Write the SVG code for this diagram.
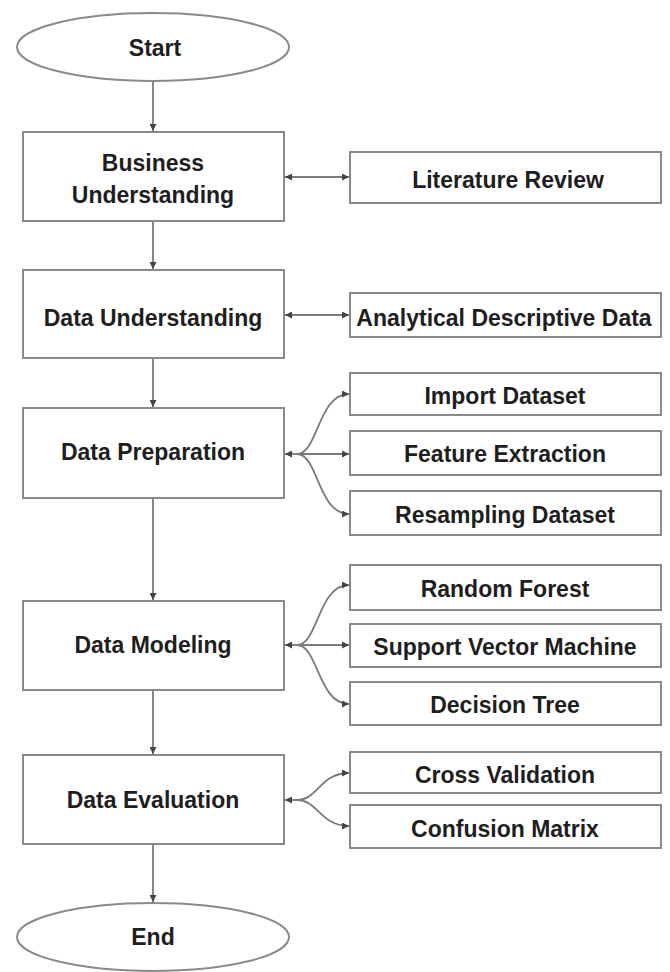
<svg xmlns="http://www.w3.org/2000/svg" width="670" height="972" viewBox="0 0 670 972">
<style>
.box{fill:#fff;stroke:#8a8a8a;stroke-width:2}
.t{font-family:"Liberation Sans",Arial,sans-serif;font-weight:bold;font-size:23px;fill:#1e1e1e;text-anchor:middle;dominant-baseline:central}
.c{fill:none;stroke:#7a7a7a;stroke-width:1.8}
</style>
<defs>
<marker id="ah" viewBox="0 0 10 10" refX="10" refY="5" markerWidth="7" markerHeight="7" markerUnits="userSpaceOnUse" orient="auto-start-reverse">
<path d="M0,0 L10,5 L0,10 z" fill="#444"/>
</marker>
</defs>
<rect width="670" height="972" fill="#fff"/>
<g id="connectors">
<line class="c" x1="153" y1="82" x2="153" y2="131" marker-end="url(#ah)"/>
<line class="c" x1="153" y1="221" x2="153" y2="269" marker-end="url(#ah)"/>
<line class="c" x1="153" y1="358" x2="153" y2="407" marker-end="url(#ah)"/>
<line class="c" x1="153" y1="498" x2="153" y2="600" marker-end="url(#ah)"/>
<line class="c" x1="153" y1="690" x2="153" y2="754" marker-end="url(#ah)"/>
<line class="c" x1="153" y1="844" x2="153" y2="902" marker-end="url(#ah)"/>
<line class="c" x1="285" y1="177" x2="349" y2="177" marker-start="url(#ah)" marker-end="url(#ah)"/>
<line class="c" x1="285" y1="315" x2="349" y2="315" marker-start="url(#ah)" marker-end="url(#ah)"/>
<line class="c" x1="285" y1="454" x2="299" y2="454" marker-start="url(#ah)"/>
<path class="c" d="M297,454 C318,454 318,394 349,394" marker-end="url(#ah)"/>
<path class="c" d="M297,454 L349,454" marker-end="url(#ah)"/>
<path class="c" d="M297,454 C318,454 318,514 349,514" marker-end="url(#ah)"/>
<line class="c" x1="285" y1="645" x2="299" y2="645" marker-start="url(#ah)"/>
<path class="c" d="M297,645 C318,645 318,585 349,585" marker-end="url(#ah)"/>
<path class="c" d="M297,645 L349,645" marker-end="url(#ah)"/>
<path class="c" d="M297,645 C318,645 318,704 349,704" marker-end="url(#ah)"/>
<line class="c" x1="285" y1="800" x2="299" y2="800" marker-start="url(#ah)"/>
<path class="c" d="M297,800 C318,800 320,773 349,773" marker-end="url(#ah)"/>
<path class="c" d="M297,800 C318,800 320,826 349,826" marker-end="url(#ah)"/>
</g>
<g id="start"><ellipse class="box" cx="153" cy="47" rx="136" ry="34"/><text class="t" x="155" y="48">Start</text></g>
<g id="business"><rect class="box" x="23" y="132" width="261" height="89"/><text class="t" x="153" y="163">Business</text><text class="t" x="153" y="195">Understanding</text></g>
<g id="literature"><rect class="box" x="350" y="152" width="311" height="51"/><text class="t" x="508" y="180">Literature Review</text></g>
<g id="dataunderstanding"><rect class="box" x="23" y="270" width="261" height="88"/><text class="t" x="153" y="318">Data Understanding</text></g>
<g id="analytical"><rect class="box" x="350" y="293" width="311" height="44"/><text class="t" x="504" y="318">Analytical Descriptive Data</text></g>
<g id="preparation"><rect class="box" x="23" y="408" width="261" height="90"/><text class="t" x="153" y="452">Data Preparation</text></g>
<g id="import"><rect class="box" x="350" y="373" width="311" height="42"/><text class="t" x="505" y="396">Import Dataset</text></g>
<g id="feature"><rect class="box" x="350" y="431" width="311" height="44"/><text class="t" x="505" y="454">Feature Extraction</text></g>
<g id="resampling"><rect class="box" x="350" y="491" width="311" height="44"/><text class="t" x="505" y="515">Resampling Dataset</text></g>
<g id="modeling"><rect class="box" x="23" y="601" width="261" height="89"/><text class="t" x="153" y="645">Data Modeling</text></g>
<g id="rf"><rect class="box" x="350" y="565" width="311" height="45"/><text class="t" x="505" y="589">Random Forest</text></g>
<g id="svm"><rect class="box" x="350" y="624" width="311" height="43"/><text class="t" x="505" y="647">Support Vector Machine</text></g>
<g id="dt"><rect class="box" x="350" y="682" width="311" height="43"/><text class="t" x="505" y="705">Decision Tree</text></g>
<g id="evaluation"><rect class="box" x="23" y="755" width="261" height="89"/><text class="t" x="153" y="800">Data Evaluation</text></g>
<g id="cv"><rect class="box" x="350" y="752" width="311" height="41"/><text class="t" x="505" y="775">Cross Validation</text></g>
<g id="cm"><rect class="box" x="350" y="805" width="311" height="43"/><text class="t" x="505" y="829">Confusion Matrix</text></g>
<g id="end"><ellipse class="box" cx="153" cy="937" rx="136" ry="34"/><text class="t" x="153" y="937">End</text></g>
</svg>
